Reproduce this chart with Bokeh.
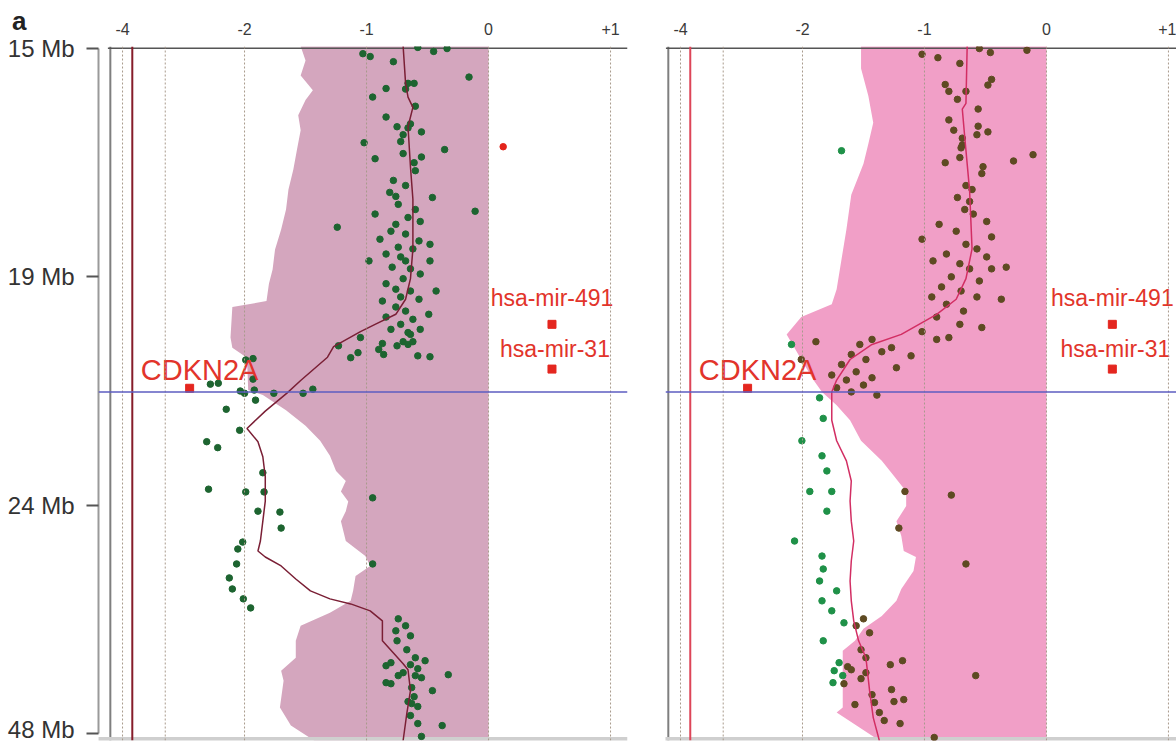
import numpy as np
from bokeh.plotting import figure
from bokeh.layouts import row
from bokeh.models import Range1d, FixedTicker, Span, Div
from bokeh.embed import file_html
from bokeh.resources import INLINE
from bokeh.core.properties import value

# ---------------- axis definitions ----------------
X_TICKS = [-4, -2, -1, 0, 1]
X_TICK_LABELS = ["-4", "-2", "-1", "0", "+1"]
X_TICK_POS = [-3, -2, -1, 0, 1]          # equal spacing of the compressed axis
Y_TICKS_MB = [15, 19, 24, 48]
Y_TICK_LABELS = ["15 Mb", "19 Mb", "24 Mb", "48 Mb"]
GRID_X = [-4, -3.3, -2, -1, 0, 1]
THRESHOLD = -3.84
TRACK_EDGE = -4.2
PINK_RIGHT = 0.0
BREAKPOINT_MB = 21.52
TOP_MB, BOTTOM_MB = 14.964, 48.74
PANEL_LETTER = "a"

GENES = ["CDKN2A", "hsa-mir-491", "hsa-mir-31"]
GENE_X_LEFT = [-2.9, 0.52, 0.52]
GENE_X_RIGHT = [-2.9, 0.54, 0.54]
GENE_MB = [21.44, 20.04, 21.02]

RED_DOT = [(16.72, 0.12)]

# ---------------- left panel (Mb, log ratio) ----------------
L_PINK_EDGE = [(14.96, -1.54), (15.21, -1.50), (15.47, -1.54), (15.73, -1.44), (15.90, -1.50),
               (16.17, -1.56), (16.43, -1.54), (16.77, -1.57), (17.12, -1.60), (17.47, -1.64),
               (17.82, -1.66), (18.17, -1.70), (18.52, -1.75), (18.87, -1.77), (19.15, -1.80),
               (19.53, -1.82), (19.66, -2.20), (20.33, -2.23), (20.55, -2.20), (20.77, -1.98),
               (21.48, -1.97), (21.59, -1.85), (21.92, -1.66), (22.26, -1.50), (22.59, -1.38),
               (22.92, -1.30), (23.25, -1.25), (23.47, -1.17), (23.70, -1.21), (23.92, -1.15),
               (24.63, -1.17), (25.68, -1.21), (27.77, -1.17), (29.35, -1.01), (30.39, -0.97),
               (31.44, -1.09), (33.01, -1.11), (34.06, -1.13), (35.32, -1.30), (36.68, -1.54),
               (38.26, -1.58), (40.04, -1.58), (41.40, -1.70), (42.45, -1.68), (45.28, -1.71),
               (47.17, -1.62), (48.74, -1.43)]

L_LINE = [(14.96, -0.70), (15.61, -0.68), (15.85, -0.66), (16.03, -0.62), (16.37, -0.66),
          (17.07, -0.64), (17.64, -0.62), (18.51, -0.62), (19.04, -0.64), (19.49, -0.68),
          (19.82, -0.76), (20.04, -0.93), (20.20, -1.05), (20.53, -1.27), (20.76, -1.32),
          (21.27, -1.54), (21.54, -1.65), (21.94, -1.83), (22.32, -1.98), (22.61, -1.89),
          (22.94, -1.85), (23.38, -1.83), (23.91, -1.83), (25.68, -1.85), (27.77, -1.87),
          (28.82, -1.89), (29.45, -1.83), (30.39, -1.70), (31.76, -1.58), (33.01, -1.46),
          (33.85, -1.30), (34.38, -1.13), (35.11, -0.97), (36.16, -0.87), (38.26, -0.87),
          (40.67, -0.70), (41.30, -0.66), (43.50, -0.64), (45.91, -0.67), (48.74, -0.70)]

L_DOTS = [(14.98, -0.58), (15.05, -0.45), (15.00, -0.34), (15.23, -0.78), (15.50, -0.16),
          (15.70, -0.84), (15.61, -0.66), (15.61, -0.61), (15.71, -0.68), (16.01, -0.60),
          (16.20, -0.84), (16.37, -0.75), (16.32, -0.64), (16.39, -0.66), (16.46, -0.55),
          (16.51, -0.70), (16.63, -0.72), (16.77, -0.36), (16.84, -0.70), (16.90, -0.55),
          (17.00, -0.61), (17.14, -0.60), (17.31, -0.78), (17.40, -0.68), (17.52, -0.81),
          (17.59, -0.76), (15.09, -1.03), (15.14, -0.97), (15.85, -0.95), (16.65, -1.02),
          (16.93, -0.93), (17.73, -0.74), (17.82, -0.60), (17.90, -0.93), (17.96, -0.66),
          (18.08, -0.76), (18.03, -0.56), (18.13, -1.24), (18.20, -0.80), (18.25, -0.68),
          (18.34, -0.89), (18.37, -0.57), (18.43, -0.48), (18.48, -0.74), (18.51, -0.62),
          (18.60, -0.84), (18.65, -0.72), (18.72, -0.68), (18.72, -0.48), (18.83, -0.79),
          (18.86, -0.64), (18.95, -0.56), (19.04, -0.70), (19.15, -0.84), (19.27, -0.76),
          (19.31, -0.64), (19.31, -0.43), (19.44, -0.72), (19.53, -0.87), (19.49, -0.57),
          (19.66, -0.76), (19.75, -0.68), (19.82, -0.49), (19.88, -0.84), (19.93, -0.62),
          (20.04, -0.72), (20.15, -0.80), (20.15, -0.56), (17.85, -0.11), (18.72, -0.98),
          (17.61, -0.46), (20.51, -1.23), (20.33, -1.05), (20.77, -1.13), (20.66, -1.07),
          (20.59, -0.90), (20.70, -0.86), (20.46, -0.87), (20.51, -0.75), (20.42, -0.70),
          (20.48, -0.66), (20.42, -0.62), (20.22, -0.66), (20.26, -0.64), (20.73, -0.58),
          (20.75, -0.48), (20.82, -1.99), (20.79, -1.93), (21.24, -1.93), (21.35, -2.56),
          (21.33, -2.43), (21.50, -2.07), (21.55, -2.00), (21.48, -1.92), (21.55, -1.76),
          (21.55, -1.52), (21.46, -1.44), (21.70, -1.91), (21.90, -2.30), (22.36, -2.08),
          (22.61, -2.62), (22.74, -2.44), (23.29, -1.85), (23.71, -1.99), (23.71, -1.84),
          (23.65, -2.59), (24.73, -1.71), (26.41, -1.70), (24.63, -1.89), (28.61, -2.11),
          (27.88, -2.03), (30.18, -2.13), (31.65, -2.25), (32.81, -2.20), (33.85, -2.02),
          (34.80, -1.95), (23.84, -0.95), (30.18, -0.95), (35.95, -0.74), (36.68, -0.68),
          (37.21, -0.76), (37.74, -0.64), (38.26, -0.75), (39.20, -0.67), (40.04, -0.60),
          (40.35, -0.52), (40.88, -0.84), (40.56, -0.80), (40.77, -0.64), (41.19, -0.58),
          (41.61, -0.70), (41.92, -0.74), (41.92, -0.60), (42.14, -0.55), (41.82, -0.33),
          (42.66, -0.84), (42.77, -0.80), (43.18, -0.63), (43.50, -0.46), (44.13, -0.61),
          (44.65, -0.66), (44.86, -0.63), (45.17, -0.58), (46.12, -0.64), (46.96, -0.58),
          (47.17, -0.38), (48.31, -0.55)]

# ---------------- right panel (Mb, log ratio) ----------------
R_PINK_EDGE = [(14.96, -1.52), (15.35, -1.52), (15.83, -1.46), (16.30, -1.42), (16.67, -1.46),
               (17.02, -1.50), (17.56, -1.60), (18.17, -1.64), (18.69, -1.68), (19.27, -1.72),
               (19.60, -1.76), (19.88, -2.02), (20.26, -2.26), (20.81, -2.02), (21.26, -1.91),
               (21.52, -1.84), (21.81, -1.72), (22.14, -1.61), (22.59, -1.52), (23.03, -1.35),
               (23.36, -1.25), (23.70, -1.15), (24.10, -1.15), (25.68, -1.23), (27.25, -1.19),
               (28.82, -1.17), (29.45, -1.07), (30.92, -1.09), (32.81, -1.19), (34.06, -1.23),
               (35.64, -1.35), (37.00, -1.50), (38.26, -1.57), (39.30, -1.67), (45.28, -1.67),
               (45.80, -1.72), (48.74, -1.37)]

R_LINE = [(14.96, -0.65), (15.96, -0.66), (16.06, -0.69), (16.55, -0.67), (17.02, -0.65),
          (17.49, -0.63), (18.51, -0.61), (19.04, -0.66), (19.49, -0.74), (19.82, -0.90),
          (20.26, -1.19), (20.48, -1.43), (20.81, -1.61), (21.26, -1.72), (21.52, -1.76),
          (22.14, -1.76), (22.59, -1.72), (23.03, -1.64), (23.47, -1.60), (23.91, -1.61),
          (25.68, -1.60), (27.77, -1.58), (29.87, -1.60), (31.97, -1.61), (34.06, -1.60),
          (36.16, -1.58), (38.26, -1.54), (40.04, -1.48), (43.50, -1.45), (46.33, -1.42),
          (48.74, -1.37)]

R_DOTS_IN = [(15.10, -1.02), (15.16, -0.89), (15.26, -0.71), (15.00, -0.55), (15.07, -0.46),
             (15.03, -0.16), (15.54, -0.45), (15.64, -0.48), (15.63, -0.83), (15.75, -0.80),
             (15.75, -0.66), (15.89, -0.73), (16.06, -0.56), (16.25, -0.80), (16.43, -0.76),
             (16.36, -0.56), (16.51, -0.57), (16.46, -0.48), (16.57, -0.69), (16.69, -0.69),
             (16.74, -0.70), (16.86, -0.11), (16.97, -0.27), (16.91, -0.71), (17.00, -0.83),
             (17.07, -0.52), (17.19, -0.53), (17.40, -0.66), (17.47, -0.61), (17.61, -0.73),
             (17.68, -0.63), (17.82, -0.67), (17.90, -0.60), (18.08, -0.88), (18.03, -0.49),
             (18.20, -0.74), (18.30, -0.45), (18.34, -1.02), (18.43, -0.66), (18.51, -0.57),
             (18.60, -0.82), (18.65, -0.49), (18.72, -0.93), (18.77, -0.71), (18.86, -0.63),
             (18.86, -0.45), (18.83, -0.33), (19.00, -0.78), (19.09, -0.55), (19.22, -0.86),
             (19.31, -0.70), (19.44, -0.94), (19.44, -0.57), (19.49, -0.37), (19.60, -0.82),
             (19.75, -0.68), (19.88, -0.90), (20.04, -0.71), (20.11, -0.53), (20.20, -1.02),
             (20.33, -0.80), (20.48, -1.53), (20.37, -1.43), (20.64, -1.35), (20.70, -1.60),
             (20.81, -1.48), (20.55, -1.27), (20.92, -1.68), (21.08, -1.56), (21.15, -1.76),
             (21.26, -1.64), (21.21, -1.43), (20.99, -1.23), (20.73, -1.11), (20.37, -0.90),
             (21.37, -1.50), (21.43, -1.72), (21.52, -1.60), (21.59, -1.39), (20.42, -1.89),
             (20.81, -2.02), (23.70, -1.16), (23.78, -0.78), (26.41, -1.21), (30.18, -0.66),
             (35.95, -1.50), (36.68, -1.56), (37.42, -1.45), (39.20, -1.52), (40.04, -1.48),
             (40.98, -1.63), (41.30, -1.60), (41.61, -1.48), (42.24, -1.52), (42.77, -1.66),
             (40.77, -1.28), (40.35, -1.18), (41.92, -0.58), (43.39, -1.27), (43.92, -1.43),
             (44.75, -1.41), (44.65, -1.25), (44.44, -1.17), (44.96, -1.57), (45.80, -1.37),
             (46.64, -1.33), (46.96, -1.20), (48.42, -0.92)]

R_DOTS_OUT = [(16.79, -1.68), (20.48, -2.18), (21.65, -1.86), (22.10, -1.83), (22.59, -2.01),
              (22.92, -1.84), (23.25, -1.80), (23.70, -1.94), (23.70, -1.76), (24.63, -1.80),
              (27.77, -2.13), (29.35, -1.84), (30.71, -1.83), (31.97, -1.86), (33.01, -1.72),
              (34.06, -1.84), (35.11, -1.76), (36.37, -1.66), (38.26, -1.83), (40.56, -1.70),
              (41.40, -1.74), (41.92, -1.67), (42.66, -1.75)]


# ---------------- scales ----------------
def xmap(v):
    v = np.asarray(v, dtype=float)
    u = np.interp(v, X_TICKS, X_TICK_POS)
    u = np.where(v < X_TICKS[0], X_TICK_POS[0] + (v - X_TICKS[0]) / 2.0, u)
    u = np.where(v > X_TICKS[-1], X_TICK_POS[-1] + (v - X_TICKS[-1]), u)
    return u


def ymap(mb):
    mb = np.asarray(mb, dtype=float)
    t = np.interp(mb, Y_TICKS_MB, [0, 1, 2, 3])
    t = np.where(mb < Y_TICKS_MB[0], (mb - Y_TICKS_MB[0]) / 4.0, t)
    t = np.where(mb > Y_TICKS_MB[-1], 3 + (mb - Y_TICKS_MB[-1]) / 24.0, t)
    return t


def split(pairs):
    a = np.array(pairs, dtype=float)
    return xmap(a[:, 1]), ymap(a[:, 0])


FONT = "Liberation Sans"


def make_panel(width, border_left, border_right, u_start, u_end, show_y,
               pink_edge, fill_col, line_pts, line_col, thr_col, dot_groups, gene_x):
    p = figure(width=width, height=742,
               x_range=Range1d(u_start, u_end),
               y_range=Range1d(float(ymap(BOTTOM_MB)), float(ymap(TOP_MB))),
               x_axis_location="above",
               y_axis_location="left" if show_y else None,
               output_backend="svg", toolbar_location=None,
               min_border_left=border_left, min_border_right=border_right,
               min_border_top=46, min_border_bottom=2)
    p.outline_line_color = None
    p.xgrid.visible = False
    p.ygrid.visible = False
    p.background_fill_color = "white"

    # top axis
    ax = p.xaxis[0]
    ax.ticker = FixedTicker(ticks=list(xmap(X_TICKS)))
    ax.major_label_overrides = {float(t): l for t, l in zip(xmap(X_TICKS), X_TICK_LABELS)}
    ax.axis_line_color = None
    ax.major_tick_line_color = None
    ax.minor_tick_line_color = None
    ax.major_label_standoff = 6
    ax.major_label_text_font = FONT
    ax.major_label_text_font_size = "16px"
    ax.major_label_text_color = "#3a3a3a"

    if show_y:
        ay = p.yaxis[0]
        ay.ticker = FixedTicker(ticks=list(ymap(Y_TICKS_MB)))
        ay.major_label_overrides = {float(t): l for t, l in zip(ymap(Y_TICKS_MB), Y_TICK_LABELS)}
        ay.bounds = (0, 3)
        ay.axis_line_color = "#9a9a9a"
        ay.axis_line_width = 2
        ay.major_tick_line_color = "#555555"
        ay.major_tick_line_width = 2
        ay.major_tick_out = 12
        ay.major_tick_in = 0
        ay.minor_tick_line_color = None
        ay.major_label_standoff = 12
        ay.major_label_text_font = FONT
        ay.major_label_text_font_size = "24px"
        ay.major_label_text_color = "#333333"

    # shaded region
    ex, ey = split(pink_edge)
    xs = list(ex) + [float(xmap(PINK_RIGHT))] * 2
    ys = list(ey) + [float(ey[-1]), float(ey[0])]
    p.patch(xs, ys, fill_color=fill_col, line_color=None)

    # dotted grid lines
    for g in GRID_X:
        p.add_layout(Span(location=float(xmap(g)), dimension="height",
                          line_color="#a89a8c", line_dash="2 2", line_width=1))

    # frame lines
    p.segment(x0=[float(xmap(TRACK_EDGE))], y0=[float(ymap(TOP_MB))],
              x1=[float(xmap(TRACK_EDGE))], y1=[float(ymap(BOTTOM_MB))],
              line_color="#7f7f7f", line_width=2)
    p.segment(x0=[float(xmap(TRACK_EDGE)) - 0.02], y0=[float(ymap(TOP_MB + 0.03))],
              x1=[u_end], y1=[float(ymap(TOP_MB + 0.03))],
              line_color="#555555", line_width=1.5)
    p.segment(x0=[float(xmap(TRACK_EDGE)) - 0.1], y0=[float(ymap(BOTTOM_MB - 0.15))],
              x1=[u_end], y1=[float(ymap(BOTTOM_MB - 0.15))],
              line_color="#cfcfcf", line_width=4)

    # threshold line
    p.add_layout(Span(location=float(xmap(THRESHOLD)), dimension="height",
                      line_color=thr_col, line_width=2))

    # dots
    for pts, col in dot_groups:
        dx, dy = split(pts)
        p.scatter(dx, dy, marker="circle", size=6.5, fill_color=col, line_color=col)

    # smoothed line
    lx, ly = split(line_pts)
    p.line(lx, ly, line_color=line_col, line_width=1.5)

    # breakpoint line
    p.add_layout(Span(location=float(ymap(BREAKPOINT_MB)), dimension="width",
                      line_color="#5d5dc0", line_width=1.5))

    # genes
    gx = xmap(gene_x)
    gy = ymap(GENE_MB)
    p.scatter(gx, gy, marker="square", size=8, fill_color="#e4261f", line_color="#e4261f")
    offsets = [(10, -18, "29px"), (0, -26, "23px"), (3, -20, "23px")]
    for i, name in enumerate(GENES):
        dxo, dyo, fs = offsets[i]
        p.text(x=[float(gx[i])], y=[float(gy[i])], text=[name],
               x_offset=dxo, y_offset=dyo, text_align="center", text_baseline="middle",
               text_font=value(FONT), text_font_size=fs, text_color="#e2342b")
    return p


U_LEFT = (-3.197, 1.139)
U_RIGHT = (-3.123, 1.066)

left = make_panel(645, 98, 18, U_LEFT[0], U_LEFT[1], True,
                  L_PINK_EDGE, "#d4a6be", L_LINE, "#7a1f35", "#861c2a",
                  [(L_DOTS, "#1d6430"), (RED_DOT, "#e3241b")], GENE_X_LEFT)

right = make_panel(531, 20, 0, U_RIGHT[0], U_RIGHT[1], False,
                   R_PINK_EDGE, "#f19fc7", R_LINE, "#d22e63", "#dd4558",
                   [(R_DOTS_OUT, "#1f9148"), (R_DOTS_IN, "#5e4a22")], GENE_X_RIGHT)

# panel letter, floated over the top-left corner
letter = Div(text=f"<span style='font-family:Liberation Sans;font-size:26px;"
                  f"font-weight:bold;color:#222222;line-height:30px'>{PANEL_LETTER}</span>",
             width=30, height=30,
             styles={"position": "absolute", "left": "7px", "top": "1px", "z-index": "10"})

layout = row(left, right, letter)
open("out.html", "w").write(file_html(layout, INLINE))
